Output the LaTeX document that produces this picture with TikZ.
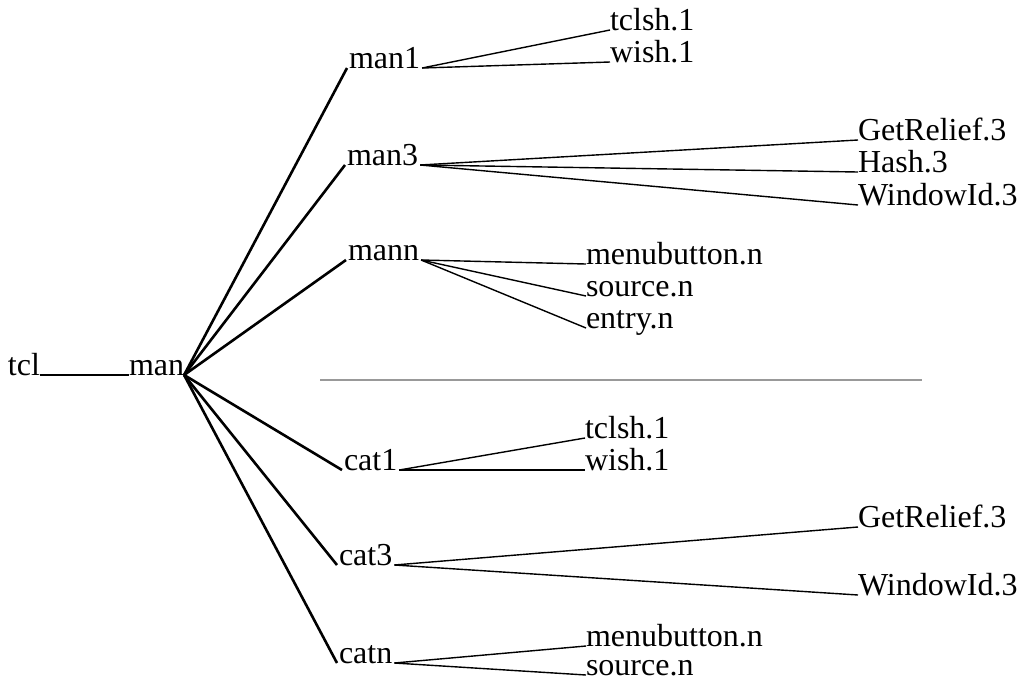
\documentclass[tikz,border=0pt]{standalone}
\usepackage{fontspec}
\setmainfont{Liberation Serif}
\begin{document}
\begin{tikzpicture}[x=1pt,y=-1pt,
  lbl/.style={anchor=base west,inner sep=0pt,outer sep=0pt,font=\fontsize{32}{38}\selectfont},
  trunk/.style={line width=2.6pt},
  twig/.style={line width=1.4pt},
  sep/.style={line width=2pt,draw={rgb,255:red,153;green,153;blue,153}}]
\useasboundingbox (0,0) rectangle (1021,681);
% nodes
\node[lbl] (tcl) at (8,375) {tcl};
\node[lbl] (man) at (129,375) {man};
\node[lbl] (man1) at (349,68) {man1};
\node[lbl] (tclshA) at (610,30) {tclsh.1};
\node[lbl] (wishA) at (610,62) {wish.1};
\node[lbl] (man3) at (347,165) {man3};
\node[lbl] (getA) at (858,140) {GetRelief.3};
\node[lbl] (hash) at (858,172) {Hash.3};
\node[lbl] (winA) at (858,205) {WindowId.3};
\node[lbl] (mann) at (348,260) {mann};
\node[lbl] (menuA) at (586,264) {menubutton.n};
\node[lbl] (srcA) at (586,296) {source.n};
\node[lbl] (entry) at (586,328) {entry.n};
\node[lbl] (cat1) at (344,470) {cat1};
\node[lbl] (tclshB) at (585,438) {tclsh.1};
\node[lbl] (wishB) at (585,470) {wish.1};
\node[lbl] (cat3) at (339,565) {cat3};
\node[lbl] (getB) at (858,527) {GetRelief.3};
\node[lbl] (winB) at (858,595) {WindowId.3};
\node[lbl] (catn) at (339,663) {catn};
\node[lbl] (menuB) at (586,646) {menubutton.n};
\node[lbl] (srcB) at (586,675) {source.n};
% separator
\coordinate (sepL) at (320,380);
\coordinate (sepR) at (922,380);
\draw[sep] (sepL) -- (sepR);
% trunk connectors
\draw[trunk] (tcl.base east) -- (man.base west);
\foreach \c in {man1,man3,mann,cat1,cat3,catn}
  \draw[trunk] (man.base east) -- ([xshift=-2pt]\c.base west);
% twig connectors
\foreach \p/\c in {man1/tclshA,man1/wishA,man3/getA,man3/hash,man3/winA,
  mann/menuA,mann/srcA,mann/entry,cat1/tclshB,cat1/wishB,cat3/getB,cat3/winB,
  catn/menuB,catn/srcB}
  \draw[twig] ([xshift=2pt]\p.base east) -- (\c.base west);
\end{tikzpicture}
\end{document}
